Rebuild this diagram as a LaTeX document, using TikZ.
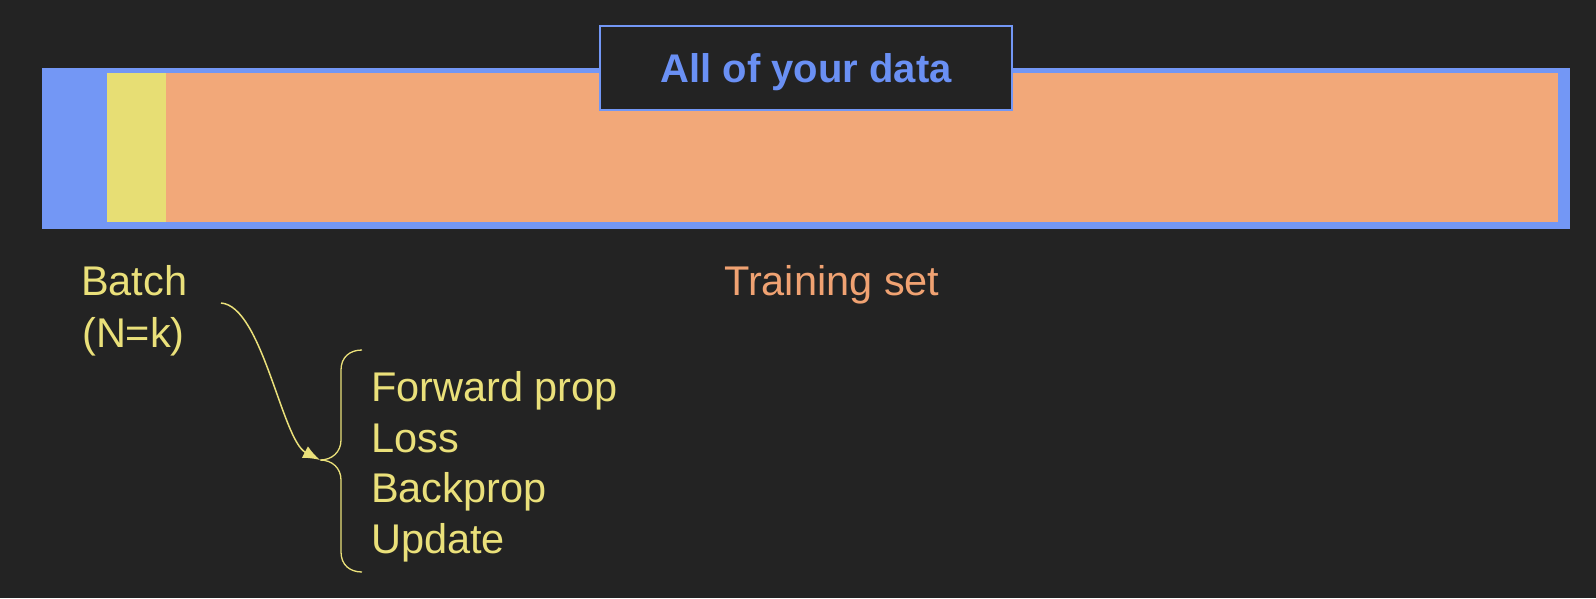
\documentclass[tikz,border=0pt]{standalone}
\usepackage{fontspec}
\setmainfont{Liberation Sans}
\usetikzlibrary{arrows.meta}

\definecolor{bg}{HTML}{232323}
\definecolor{allblue}{HTML}{7397F5}
\definecolor{titleblue}{HTML}{6A90F4}
\definecolor{batchyellow}{HTML}{E7DE74}
\definecolor{trainorange}{HTML}{F2A879}
\definecolor{textyellow}{HTML}{EAE07A}
\definecolor{textorange}{HTML}{F0A272}

\tikzset{>={Latex[length=17pt,width=13pt]},
             lbl/.style={inner sep=0pt, anchor=base west, font=\fontsize{41.5}{48}\selectfont},
        titlebox/.style={draw=allblue, line width=2pt, fill=bg, minimum width=412pt, minimum height=84pt,
                         text depth=0pt, text=titleblue, font=\fontsize{40}{48}\selectfont\bfseries}}

\begin{document}
\begin{tikzpicture}[x=1pt, y=-1pt]
        \useasboundingbox[fill=bg] (0,0) rectangle (1596,598);

        % the data bar: all data, one batch, the training set
        \fill[allblue]     ( 42, 68) rectangle (1570, 229);
        \fill[trainorange] (166, 73) rectangle (1558, 222);
        \fill[batchyellow] (107, 73) rectangle ( 166, 222);
        \node[titlebox] at (806, 68) (alldata) {All of your data};

        \node[lbl, text=textyellow] at ( 81, 295) (batch)     {Batch};
        \node[lbl, text=textyellow] at ( 82, 347) (batchsize) {(N=k)};
        \node[lbl, text=textorange] at (724, 295) (trainset)  {Training set};

        \node[lbl, text=textyellow] at (371, 401) (forward)  {Forward prop};
        \node[lbl, text=textyellow] at (371, 452) (loss)     {Loss};
        \node[lbl, text=textyellow] at (371, 502) (backprop) {Backprop};
        \node[lbl, text=textyellow] at (371, 553) (update)   {Update};

        \coordinate (from) at (221, 303);
        \coordinate (tip)  at (320, 460);

        % brace round the four steps
        \draw[textyellow, line width=1.3pt]
            (362, 350)
            .. controls (350, 350) and (341, 357) .. (341, 370)
            -- (341, 440)
            .. controls (341, 452) and (332, 460) .. (tip)
            .. controls (332, 460) and (341, 468) .. (341, 480)
            -- (341, 552)
            .. controls (341, 565) and (350, 572) .. (362, 572);

        \draw[->, textyellow, line width=1.5pt]
            (from) .. controls (262, 306) and (282, 440) .. (tip);
\end{tikzpicture}
\end{document}
